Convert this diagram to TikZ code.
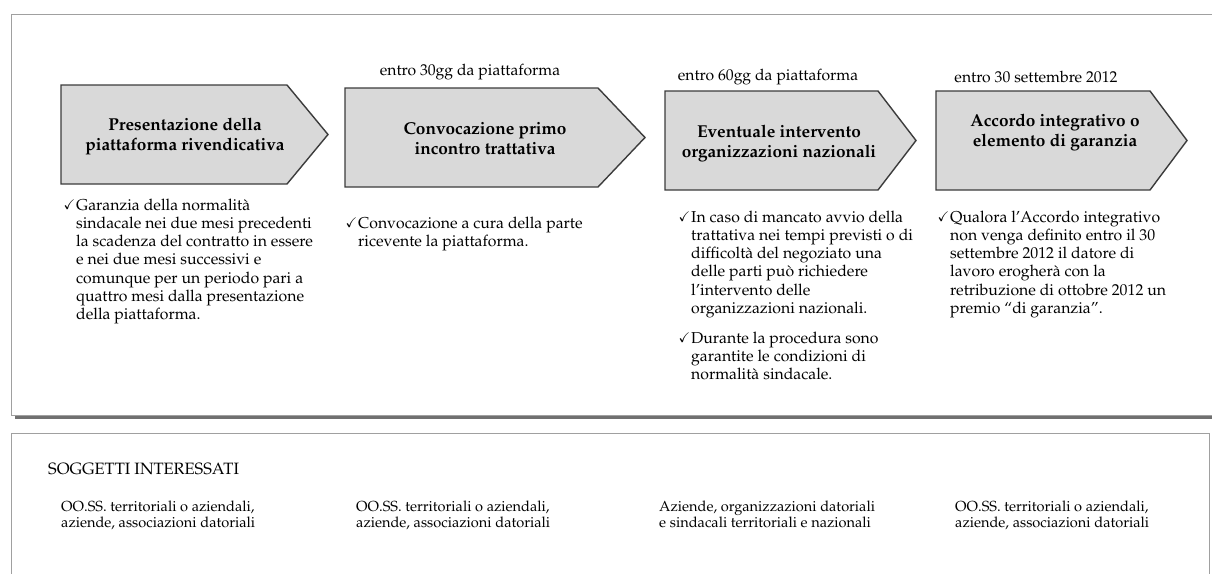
\documentclass[tikz,border=0pt]{standalone}
\usepackage[T1]{fontenc}
\usepackage{mathpazo}
\usepackage{amssymb}
\usepackage{graphicx}
\definecolor{arrowfill}{HTML}{D9D9D9}
\definecolor{arrowline}{HTML}{3C3C3C}
\definecolor{panelline}{HTML}{A0A0A0}
\definecolor{shadowline}{HTML}{707070}
\newcommand{\ck}{\llap{\raisebox{0.3pt}{\scalebox{0.85}{$\checkmark$}}\hspace{1pt}}}
\begin{document}
\begin{tikzpicture}[x=1pt,y=-1pt,
  stepshape/.style={draw=arrowline, fill=arrowfill, line width=1.4pt, line join=miter},
  ttl/.style={font=\fontsize{17.2}{20}\selectfont\bfseries, align=center, inner sep=0pt},
  lbl/.style={font=\fontsize{15.7}{18}\selectfont, inner sep=0pt},
  body/.style={font=\fontsize{15.8}{18.3}\selectfont, align=left, anchor=north west, inner sep=0pt},
  who/.style={font=\fontsize{14.6}{16}\selectfont, align=left, anchor=north west, inner sep=0pt},
  head/.style={font=\fontsize{16.4}{18}\selectfont, inner sep=0pt, anchor=west},
]
\useasboundingbox (0,0) rectangle (1212,573);
\fill[white] (0,0) rectangle (1212,573);
% top panel with shadow
\draw[shadowline, line width=3pt] (15,417) -- (1212,417);
\draw[panelline, line width=1pt] (1230,14) -- (11,14) -- (11,415) -- (1230,415);
% bottom panel
\draw[panelline, line width=1pt] (11,600) -- (11,433) -- (1209,433) -- (1209,600);

% step arrows
\draw[stepshape] (61,85) -- (287,85) -- (328,134.5) -- (287,184) -- (61,184) -- cycle;
\draw[stepshape] (345,88) -- (598,88) -- (645,137.5) -- (598,187) -- (345,187) -- cycle;
\draw[stepshape] (665,91) -- (878,91) -- (916,140.5) -- (878,190) -- (665,190) -- cycle;
\draw[stepshape] (936,91) -- (1150,91) -- (1187,140.5) -- (1150,190) -- (936,190) -- cycle;

\node[ttl] (s1) at (185,136) {Presentazione della\\piattaforma rivendicativa};
\node[ttl] (s2) at (485,139) {Convocazione primo\\incontro trattativa};
\node[ttl] (s3) at (779,143.5) {Eventuale intervento\\organizzazioni nazionali};
\node[ttl] (s4) at (1055,132.5) {Accordo integrativo o\\elemento di garanzia};

\node[lbl] (t2) at (470,72) {entro 30gg da piattaforma};
\node[lbl] (t3) at (768,77) {entro 60gg da piattaforma};
\node[lbl] (t4) at (1036,77) {entro 30 settembre 2012};

% bullet texts
\node[body] (b1) at (76,197) {\strut\ck Garanzia della normalità\\sindacale nei due mesi precedenti\\la scadenza del contratto in essere\\e nei due mesi successivi e\\comunque per un periodo pari a\\quattro mesi dalla presentazione\\della piattaforma.};
\node[body] (b2) at (358,215) {\strut\ck Convocazione a cura della parte\\ricevente la piattaforma.};
\node[body] (b3) at (691,209) {\strut\ck In caso di mancato avvio della\\trattativa nei tempi previsti o di\\difficoltà del negoziato una\\delle parti può richiedere\\l'intervento delle\\organizzazioni nazionali.};
\node[body] (b3b) at (691,330) {\strut\ck Durante la procedura sono\\garantite le condizioni di\\normalità sindacale.};
\node[body] (b4) at (950,209) {\strut\ck Qualora l'Accordo integrativo\\non venga definito entro il 30\\settembre 2012 il datore di\\lavoro erogherà con la\\retribuzione di ottobre 2012 un\\premio ``di garanzia''.};

% bottom panel texts
\node[head] (sog) at (48,469) {SOGGETTI INTERESSATI};
\node[who] (w1) at (61,500) {\strut OO.SS. territoriali o aziendali,\\aziende, associazioni datoriali};
\node[who] (w2) at (356,500) {\strut OO.SS. territoriali o aziendali,\\aziende, associazioni datoriali};
\node[who] (w3) at (659,500) {\strut Aziende, organizzazioni datoriali\\e sindacali territoriali e nazionali};
\node[who] (w4) at (955,500) {\strut OO.SS. territoriali o aziendali,\\aziende, associazioni datoriali};
\end{tikzpicture}
\end{document}
